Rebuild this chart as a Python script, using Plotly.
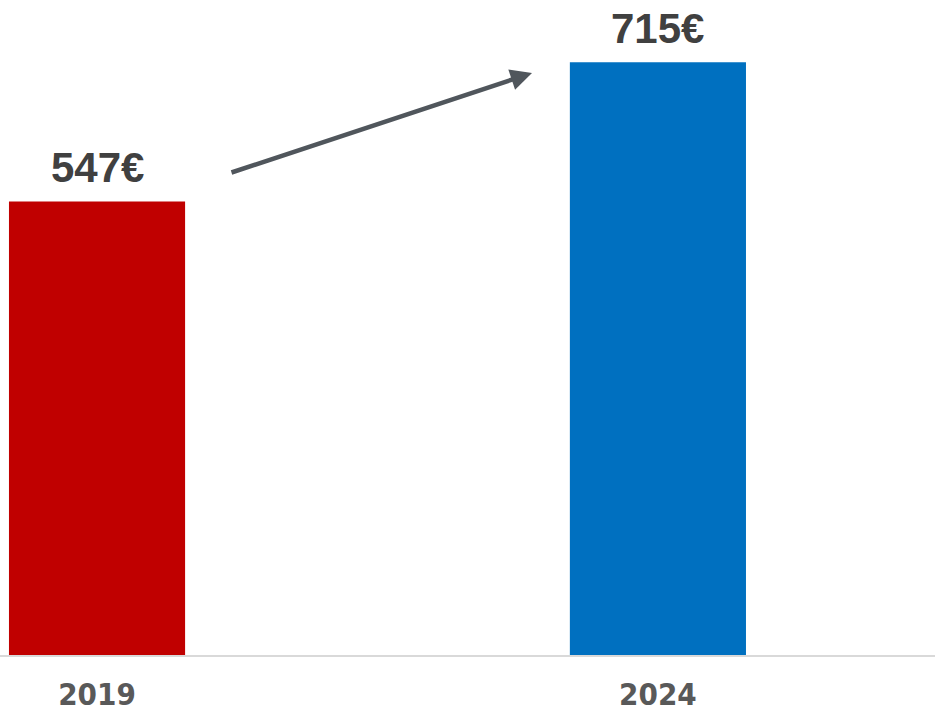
import plotly.graph_objects as go

categories = ["2019", "2024"]
values = [547, 715]
labels = ["547€", "715€"]
colors = ["#C00000", "#0070C0"]

positions = list(range(len(categories)))

fig = go.Figure()
fig.add_trace(go.Bar(
    x=positions,
    y=values,
    width=0.314,
    marker=dict(color=colors, line=dict(width=0)),
    cliponaxis=False,
    hoverinfo="skip",
))

for p, v, t in zip(positions, values, labels):
    fig.add_annotation(
        x=p, y=v, text=t, showarrow=False,
        xanchor="center", yanchor="bottom", yshift=8,
        font=dict(family="Liberation Sans, Arial, sans-serif", size=42, color="#404040", weight="bold"),
    )

H = 655.0
fig.add_annotation(
    xref="x domain", yref="y domain",
    x=532 / 935, y=(H - 73) / H,
    ax=230 / 935, ay=(H - 173) / H,
    axref="x domain", ayref="y domain",
    showarrow=True, arrowhead=2, arrowsize=0.95, arrowwidth=4.5,
    arrowcolor="#50565C", text="",
)

fig.update_layout(
    width=935, height=713,
    margin=dict(l=0, r=0, t=0, b=58),
    plot_bgcolor="white", paper_bgcolor="white",
    showlegend=False,
    xaxis=dict(
        range=[-0.173, 1.494],
        tickvals=positions, ticktext=categories,
        showgrid=False, zeroline=False,
        showline=True, linecolor="#D9D9D9", linewidth=2,
        ticks="", ticklabelstandoff=11,
        tickfont=dict(family="DejaVu Sans Condensed, DejaVu Sans, sans-serif", size=31, color="#595959", weight="bold"),
        fixedrange=True,
    ),
    yaxis=dict(
        range=[0, 790], visible=False, showgrid=False, zeroline=False, fixedrange=True,
    ),
)

fig.write_html(
    "out.html",
    config={"displayModeBar": False},
    post_script="document.body.style.margin='0';document.body.style.overflow='hidden';",
)
